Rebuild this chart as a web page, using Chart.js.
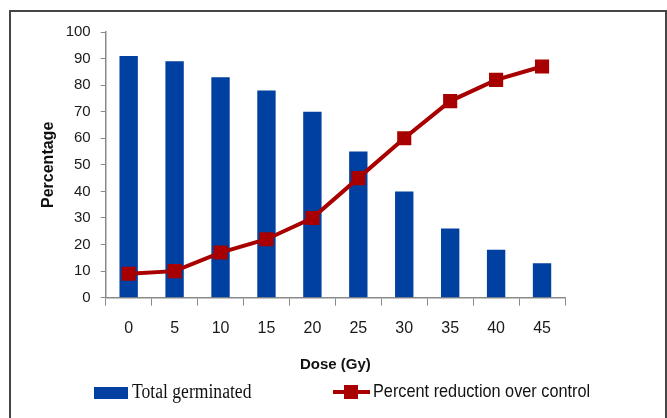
<!DOCTYPE html>
<html>
<head>
<meta charset="utf-8">
<script src="https://cdn.jsdelivr.net/npm/chart.js@4/dist/chart.umd.min.js"></script>
<style>
  html, body { margin: 0; padding: 0; background: #fff; }
  #wrap { position: relative; width: 667px; height: 418px; overflow: hidden; }
  #frame { position: absolute; left: 9px; top: 10px; width: 658px; height: 440px;
           border: 2px solid #454545; box-sizing: border-box; }
  #c { position: absolute; left: 0; top: 0; }
</style>
</head>
<body>
<div id="wrap">
  <div id="frame"></div>
  <canvas id="c" width="667" height="418"></canvas>
</div>
<script>
// Gamma-ray dose levels (Gy)
const doses = ['0', '5', '10', '15', '20', '25', '30', '35', '40', '45'];
// Total germinated (%)
const totalGerminated = [91, 89, 83, 78, 70, 55, 40, 26, 18, 13];
// Percent reduction over control (%)
const percentReduction = [9, 10, 17, 22, 30, 45, 60, 74, 82, 87];
// Value axis range
const yMin = 0, yMax = 100, yStep = 10;

const BLUE = '#0040A0';
const RED = '#A80000';
const AXIS = '#8a8a8a';

// Legend drawn below the axis title: a filled box for the bars,
// a line with a square marker for the line series.
const bottomLegend = {
  id: 'bottomLegend',
  afterDraw(chart) {
    const ctx = chart.ctx;
    const [bars, line] = chart.data.datasets;
    const cy = 393;
    ctx.save();
    // bar entry
    ctx.fillStyle = bars.backgroundColor;
    ctx.fillRect(94, cy - 6, 34, 12);
    ctx.fillStyle = '#111';
    ctx.textBaseline = 'middle';
    ctx.font = '20px "Liberation Serif", "Times New Roman", serif';
    ctx.save();
    ctx.translate(132, cy);
    ctx.scale(0.88, 1);
    ctx.fillText(bars.label, 0, 0);
    ctx.restore();
    // line entry
    ctx.strokeStyle = line.borderColor;
    ctx.lineWidth = 4;
    ctx.beginPath();
    ctx.moveTo(333, cy - 1);
    ctx.lineTo(370, cy - 1);
    ctx.stroke();
    ctx.fillStyle = line.pointBackgroundColor;
    ctx.fillRect(344, cy - 8, 14, 14);
    ctx.fillStyle = '#111';
    ctx.font = '18.5px "Liberation Sans", Arial, sans-serif';
    ctx.save();
    ctx.translate(373, cy - 1);
    ctx.scale(0.88, 1);
    ctx.fillText(line.label, 0, 0);
    ctx.restore();
    ctx.restore();
  }
};

new Chart(document.getElementById('c'), {
  type: 'bar',
  data: {
    labels: doses,
    datasets: [
      {
        type: 'bar',
        label: 'Total germinated',
        data: totalGerminated,
        backgroundColor: BLUE,
        borderWidth: 0,
        categoryPercentage: 1,
        barPercentage: 0.4,
        order: 2
      },
      {
        type: 'line',
        label: 'Percent reduction over control',
        data: percentReduction,
        borderColor: RED,
        borderWidth: 4,
        pointStyle: 'rect',
        pointRadius: 10,
        pointBackgroundColor: RED,
        pointBorderColor: RED,
        pointBorderWidth: 0,
        tension: 0,
        fill: false,
        order: 1
      }
    ]
  },
  options: {
    responsive: false,
    animation: false,
    devicePixelRatio: 1,
    layout: { padding: { left: 0, top: 32, right: 102, bottom: 0 } },
    plugins: {
      legend: { display: false },
      tooltip: { enabled: false }
    },
    scales: {
      x: {
        grid: { drawOnChartArea: false, offset: true, tickLength: 8, color: AXIS, lineWidth: 1 },
        border: { color: AXIS, width: 1.5 },
        ticks: {
          color: '#1a1a1a',
          padding: 13,
          font: { family: '"Liberation Sans", Arial, sans-serif', size: 16 }
        },
        title: {
          display: true,
          text: 'Dose (Gy)',
          color: '#111',
          font: { family: '"Liberation Sans", Arial, sans-serif', size: 15, weight: 'bold' },
          padding: { top: 0, bottom: 44 }
        },
        afterFit(scale) { scale.height = 120.3; }
      },
      y: {
        min: yMin,
        max: yMax,
        grid: { drawOnChartArea: false, tickLength: 5, color: AXIS, lineWidth: 1 },
        border: { color: AXIS, width: 1.5 },
        ticks: {
          stepSize: yStep,
          color: '#1a1a1a',
          padding: 10,
          font: { family: '"Liberation Sans", Arial, sans-serif', size: 15 }
        },
        title: {
          display: true,
          text: 'Percentage',
          color: '#111',
          font: { family: '"Liberation Sans", Arial, sans-serif', size: 16, weight: 'bold' },
          padding: { top: 39, bottom: 0 }
        },
        afterFit(scale) { scale.width = 105.7; }
      }
    }
  },
  plugins: [bottomLegend]
});
</script>
</body>
</html>
